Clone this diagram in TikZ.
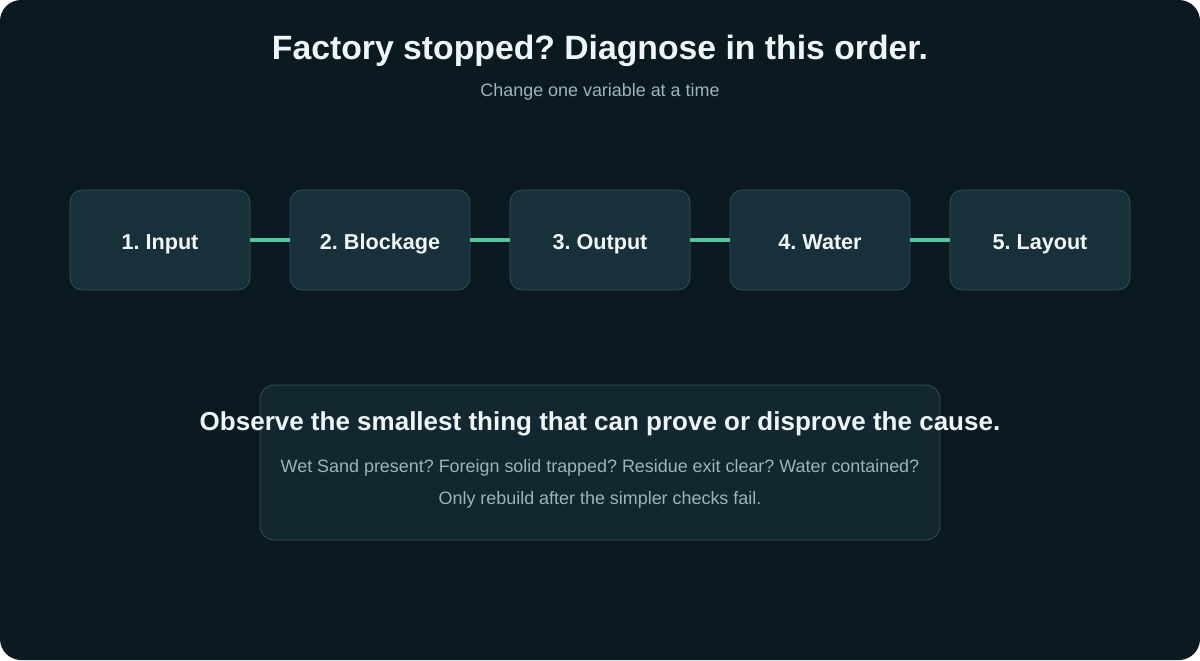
\documentclass[tikz,border=0pt]{standalone}
\usepackage{fontspec}
\setmainfont{Liberation Sans}
\frenchspacing
\usetikzlibrary{positioning}
\definecolor{bgdark}{HTML}{0B1A20}
\definecolor{stagefill}{HTML}{183039}
\definecolor{stageline}{HTML}{34545D}
\definecolor{notefill}{HTML}{12272F}
\definecolor{linkgreen}{HTML}{4CC99C}
\definecolor{titletext}{HTML}{F0F6F7}
\definecolor{subtext}{HTML}{9DB5BA}
\tikzstyle{stage}=[rectangle, rounded corners=7pt, draw=stageline, fill=stagefill, minimum width=3.6cm, minimum height=2cm, text height=2ex, text depth=0ex, text=titletext, font=\fontsize{12.3}{14}\selectfont\bfseries]
\tikzstyle{link}=[-, draw=linkgreen, line width=2.3pt]
\tikzstyle{note}=[rectangle, rounded corners=8pt, draw=stageline, fill=notefill, minimum width=13.6cm, minimum height=3.1cm]
\begin{document}
\begin{tikzpicture}[x=0.02cm, y=-0.02cm]
	%The background
	\useasboundingbox (0,0) rectangle (1200,660);
	\fill[bgdark, rounded corners=12pt] (0,0) rectangle (1200,660);
	
	%The title
	\node[text=titletext, font=\fontsize{19.2}{22}\selectfont\bfseries] (title) at (600,51) {Factory stopped? Diagnose in this order.};
	\node[text=subtext, font=\fontsize{10.2}{12}\selectfont] (subtitle) at (600,92) {Change one variable at a time};
	
	%The stages
	\node[stage] (s1) at (160,240) {1. Input};
	\node[stage] (s2) at (380,240) {2. Blockage};
	\node[stage] (s3) at (600,240) {3. Output};
	\node[stage] (s4) at (820,240) {4. Water};
	\node[stage] (s5) at (1040,240) {5. Layout};
	
	\draw[link] (s1) -- (s2);
	\draw[link] (s2) -- (s3);
	\draw[link] (s3) -- (s4);
	\draw[link] (s4) -- (s5);
	
	%The note
	\node[note] (note) at (600,462.5) {};
	\node[text=titletext, font=\fontsize{14.8}{17}\selectfont\bfseries] (rule) at (600,424) {Observe the smallest thing that can prove or disprove the cause.};
	\node[text=subtext, font=\fontsize{10.2}{12}\selectfont] (line1) at (600,468) {Wet Sand present? Foreign solid trapped? Residue exit clear? Water contained?};
	\node[text=subtext, font=\fontsize{10.2}{12}\selectfont] (line2) at (600,500) {Only rebuild after the simpler checks fail.};
\end{tikzpicture}
\end{document}
